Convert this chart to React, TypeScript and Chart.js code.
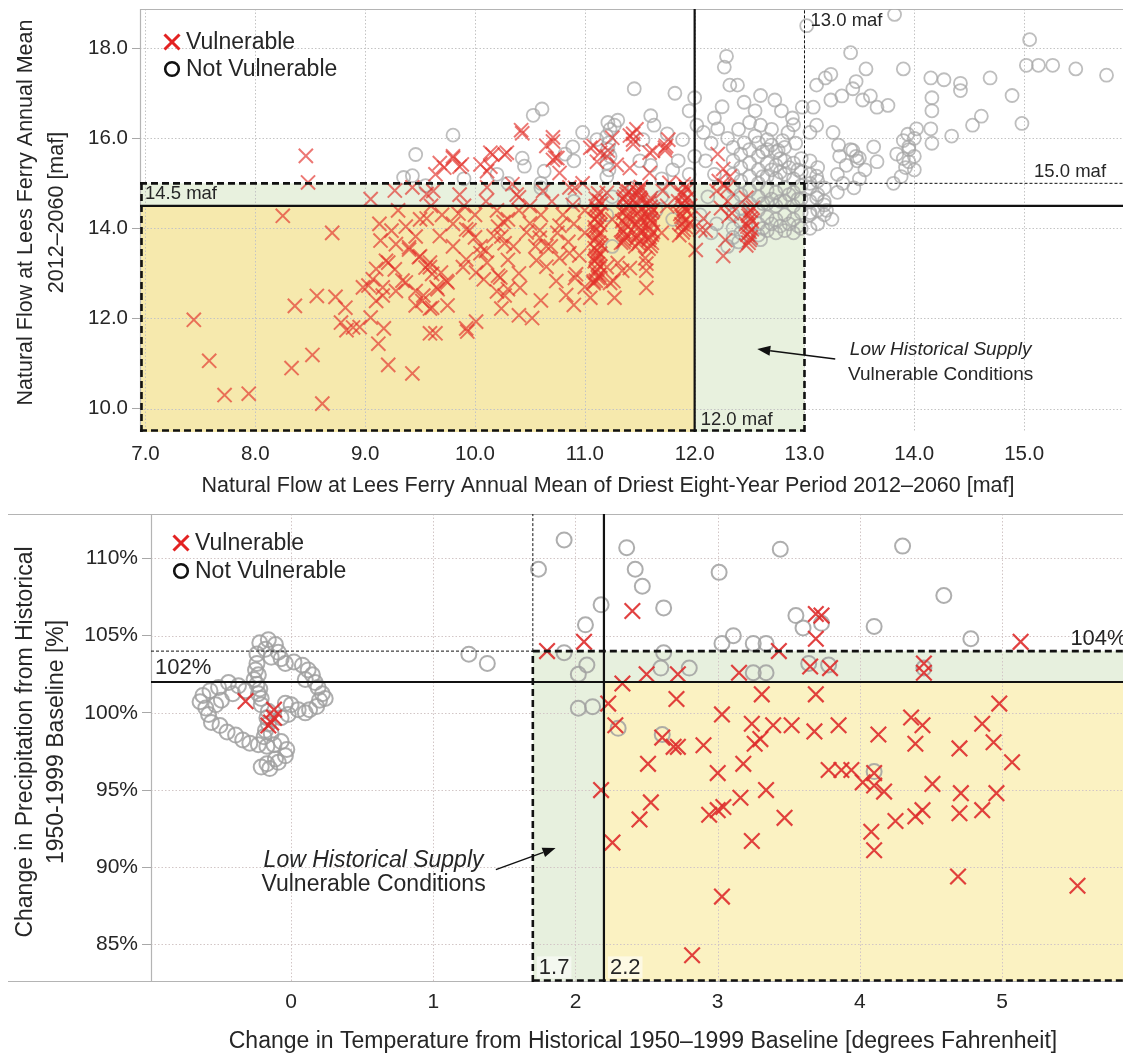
import React, { useEffect, useRef } from 'react';
import { Chart, registerables } from 'chart.js';

Chart.register(...registerables);

type P = [number, number];
const FONT = '"Liberation Sans", Arial, Helvetica, sans-serif';
const TEXT = '#262626';

// ---------------- TOP PANEL DATA ----------------
const topXTicks = [7, 8, 9, 10, 11, 12, 13, 14, 15];
const topYTicks = [10, 12, 14, 16, 18];
const topXRange = [6.95, 15.9];
const topYRange = [9.48, 18.87];
const topSupply = 12.0;
const topSupplyOuter = 13.0;
const topMean = 14.5;
const topMeanOuter = 15.0;

const topVulnerable: P[] = [
  [7.44, 11.97], [7.58, 11.06], [7.72, 10.3], [7.94, 10.33], [8.25, 14.28], [8.36, 12.28], [8.33, 10.9], [8.46, 15.61],
  [8.48, 15.02], [8.52, 11.19], [8.56, 12.5], [8.61, 10.11], [8.7, 13.9], [8.73, 12.48], [8.82, 12.24], [8.78, 11.91],
  [8.83, 11.74], [8.89, 11.8], [8.95, 11.81], [8.98, 12.69], [9.05, 12.02], [9.12, 11.44], [9.21, 10.97], [9.43, 10.78],
  [9.59, 11.67], [9.64, 11.67], [9.05, 14.65],
  [9.13, 14.1], [9.24, 13.95], [9.14, 13.73], [9.28, 13.65], [9.1, 13.1], [9.19, 13.28], [9.07, 12.87], [9.4, 13.58],
  [9.49, 13.36], [9.55, 13.13], [9.61, 12.99], [9.46, 12.61], [9.52, 12.39], [9.61, 12.24], [9.65, 12.69], [9.34, 12.84],
  [9.28, 12.61], [9.1, 12.39], [9.16, 12.69],
  [10.43, 16.11], [10.16, 15.64], [10.27, 15.64], [9.8, 15.56], [9.88, 15.42], [9.72, 15.35], [9.64, 15.2], [10.05, 15.42],
  [10.11, 15.27], [9.43, 14.91], [9.56, 14.76], [9.27, 14.84], [10.34, 14.98], [10.4, 14.69], [10.71, 15.93], [10.75, 15.56],
  [9.37, 14.04], [9.46, 13.82], [9.4, 13.53], [9.5, 13.38], [9.59, 13.24], [9.69, 13.02], [9.75, 12.8], [9.66, 12.65],
  [9.85, 14.33], [9.95, 13.96], [10.05, 13.6], [10.11, 13.24], [10.21, 12.95], [10.3, 12.65], [9.92, 13.31], [10.01, 13.02],
  [10.08, 12.87], [10.24, 13.82], [10.27, 13.67], [10.21, 14.04], [10.4, 14.4], [10.5, 14.11], [10.59, 13.96], [10.69, 13.6],
  [9.75, 12.29], [10.01, 11.93], [9.92, 11.78], [9.59, 12.22], [10.24, 12.22], [10.4, 12.07], [10.27, 12.51], [9.46, 12.29],
  [9.53, 12.51], [9.37, 12.8], [9.27, 13.09], [9.21, 13.24], [9.03, 12.73], [9.16, 12.51], [9.93, 11.71], [9.17, 11.78],
  [10.65, 15.83], [10.73, 15.57], [10.77, 15.23], [10.91, 14.9], [11.05, 15.79], [11.14, 15.68], [11.25, 16.01], [11.41, 16.06],
  [11.29, 15.41], [11.41, 15.34], [11.59, 15.68], [11.73, 15.79], [11.59, 15.23], [11.77, 15.01], [10.59, 13.79], [10.77, 13.34],
  [10.91, 12.9], [11.05, 12.46], [11.14, 12.9], [11.27, 12.46], [11.41, 13.12], [11.55, 13.34], [10.52, 12.01], [11.23, 12.79],
  [11.3, 13.23], [12.01, 13.52], [12.05, 13.97], [12.28, 13.74], [12.34, 14.34], [12.3, 14.9],
  [12.21, 15.65], [12.26, 15.32], [12.31, 14.27], [12.26, 13.39], [12.47, 14.68], [12.1, 13.95], [11.56, 13.06], [11.34, 13.06],
  [11.08, 12.82], [11.1, 13.39], [11.47, 16.2], [11.44, 15.97], [11.76, 15.97], [11.73, 15.73], [11.21, 15.73], [11.11, 15.48],
  [10.98, 15.0], [10.89, 14.52],
  [9.68, 15.45], [9.8, 15.6], [9.86, 15.37], [10.14, 15.68], [10.29, 15.68], [10.14, 15.37], [10.42, 16.18], [10.71, 16.02],
  [10.71, 15.52], [11.08, 15.83], [11.2, 15.6], [11.44, 16.1], [11.44, 15.87], [11.62, 15.72], [11.74, 15.83],
  [9.56, 14.22], [9.68, 13.83], [9.8, 13.6], [9.92, 13.98], [10.05, 13.45], [10.17, 13.83], [10.26, 14.14], [10.35, 13.6],
  [10.47, 13.91], [10.56, 13.29], [10.65, 13.6], [10.77, 14.06], [10.86, 13.45], [10.92, 12.98], [9.59, 13.14], [9.74, 12.83],
  [9.89, 13.14], [10.23, 12.91], [10.41, 12.68], [10.74, 12.83], [10.83, 12.52], [11.56, 13.22], [11.2, 13.14], [11.26, 12.83],
  [11.56, 12.68],
  [9.62, 14.83], [9.86, 14.75], [10.11, 14.91], [10.38, 14.75], [10.62, 14.83], [10.86, 14.91], [11.2, 14.79], [11.47, 14.83],
  [11.71, 14.83], [12.08, 14.22], [12.2, 14.83],
  [9.3, 14.4], [9.5, 14.2], [9.6, 14.5], [9.7, 14.3], [9.8, 14.1], [9.9, 14.5], [10.0, 14.3], [10.1, 14.6], [10.2, 14.4],
  [10.3, 14.2], [10.5, 14.5], [10.6, 14.3], [10.7, 14.6], [10.8, 14.3], [10.9, 14.1], [11.0, 14.4],
  [10.0, 13.8], [10.1, 13.5], [10.3, 13.3], [10.4, 13.0], [10.55, 13.6], [10.65, 13.15], [10.75, 13.9], [10.85, 13.7],
  [10.95, 13.4], [11.0, 13.9], [11.25, 14.2], [11.35, 13.7], [11.6, 14.2], [11.7, 13.9], [11.75, 14.5], [11.0, 12.7],
  [10.9, 12.3], [10.6, 12.4], [10.2, 12.6],
];

// tightly packed columns of vulnerable traces (read as solid red bars)
const topVulnerableStacks: P[] = [
  [11.08, 12.78], [11.12, 12.9], [11.1, 13.02], [11.14, 13.15], [11.09, 13.27], [11.13, 13.38], [11.11, 13.5], [11.15, 13.62],
  [11.08, 13.73], [11.12, 13.85], [11.1, 13.96], [11.14, 14.08], [11.09, 14.2], [11.13, 14.31], [11.11, 14.43], [11.15, 14.55],
  [11.1, 14.66], [11.12, 14.78],
  [11.1, 12.84], [11.13, 12.96], [11.11, 13.09], [11.12, 13.21], [11.1, 13.33], [11.14, 13.44], [11.09, 13.56], [11.13, 13.68],
  [11.11, 13.79], [11.14, 13.91], [11.09, 14.02], [11.12, 14.14], [11.11, 14.26], [11.14, 14.37], [11.1, 14.49], [11.13, 14.61],
  [11.33, 13.68], [11.37, 13.8], [11.35, 13.92], [11.39, 14.04], [11.34, 14.16], [11.38, 14.28], [11.36, 14.4], [11.4, 14.52],
  [11.35, 14.64], [11.38, 14.76], [11.36, 14.88], [11.36, 13.74], [11.38, 13.86], [11.34, 13.98], [11.37, 14.1], [11.39, 14.22],
  [11.35, 14.34], [11.37, 14.46], [11.38, 14.58], [11.36, 14.7], [11.4, 14.82],
  [11.46, 13.6], [11.5, 13.72], [11.48, 13.84], [11.51, 13.96], [11.47, 14.08], [11.5, 14.2], [11.48, 14.32], [11.52, 14.44],
  [11.47, 14.56], [11.5, 14.68], [11.49, 14.8], [11.51, 14.92], [11.49, 13.66], [11.47, 13.78], [11.51, 13.9], [11.49, 14.02],
  [11.48, 14.14], [11.51, 14.26], [11.49, 14.38], [11.48, 14.5], [11.51, 14.62], [11.48, 14.74], [11.5, 14.86],
  [11.58, 13.55], [11.61, 13.68], [11.59, 13.8], [11.62, 13.92], [11.58, 14.05], [11.6, 14.17], [11.59, 14.3], [11.62, 14.42],
  [11.58, 14.55], [11.6, 14.67], [11.6, 13.61], [11.58, 13.74], [11.61, 13.86], [11.59, 13.98], [11.62, 14.11], [11.58, 14.23],
  [11.61, 14.36], [11.6, 14.48], [11.59, 14.61],
  [11.86, 13.85], [11.9, 13.97], [11.88, 14.09], [11.93, 14.2], [11.87, 14.32], [11.91, 14.44], [11.89, 14.56], [11.94, 14.68],
  [11.88, 14.8], [11.92, 14.92], [11.95, 14.1], [11.96, 14.5], [11.85, 14.6], [11.89, 13.91], [11.92, 14.03], [11.9, 14.15],
  [11.88, 14.26], [11.93, 14.38], [11.9, 14.5], [11.91, 14.62], [11.89, 14.74], [11.93, 14.86], [11.9, 14.98],
  [12.47, 13.62], [12.5, 13.74], [12.48, 13.86], [12.52, 13.98], [12.47, 14.1], [12.51, 14.22], [12.49, 14.34], [12.53, 14.46],
  [12.49, 13.68], [12.51, 13.8], [12.5, 13.92], [12.48, 14.04], [12.52, 14.16], [12.49, 14.28], [12.51, 14.4],
  [12.22, 15.05], [12.27, 14.95], [12.3, 14.6], [12.24, 14.45], [12.32, 15.15],
];

const topNotVulnerable: P[] = [
  [9.46, 15.64], [9.8, 16.07], [10.53, 16.51], [10.61, 16.65], [10.43, 15.56], [10.45, 15.38], [10.63, 15.27], [9.35, 15.13],
  [9.43, 15.17], [9.55, 14.95], [9.9, 15.1], [10.2, 15.2], [10.3, 15.0], [10.6, 15.0], [10.9, 15.5], [10.98, 16.13],
  [10.89, 15.81], [10.82, 15.65], [11.11, 15.97], [11.27, 16.29], [11.53, 15.97], [11.63, 16.29], [11.45, 17.1], [11.82, 17.0],
  [11.89, 15.97], [11.95, 16.61], [12.02, 16.29],
  [11.2, 15.15], [11.22, 15.3], [11.2, 15.45], [11.23, 15.6], [11.21, 15.75], [11.22, 15.9], [11.2, 16.05], [11.23, 16.2],
  [11.21, 16.35], [11.8, 15.3], [11.85, 15.5], [11.95, 15.2], [12.0, 15.6], [11.7, 15.1], [11.6, 15.4], [11.75, 16.1],
  [11.5, 15.5], [11.2, 14.3], [11.25, 14.7], [11.45, 14.9], [11.65, 14.4], [11.7, 14.7], [11.8, 14.2], [11.25, 13.6],
  [10.9, 14.6], [10.6, 14.9],
  [12.29, 17.82], [12.27, 17.58], [12.32, 17.18], [12.39, 17.18], [13.02, 18.5], [13.42, 17.9], [13.56, 17.54], [13.9, 17.54],
  [13.82, 18.75], [14.15, 17.34], [14.27, 17.3], [14.42, 17.22], [14.42, 17.06], [14.69, 17.34], [15.05, 18.19], [15.02, 17.62],
  [15.13, 17.62], [15.26, 17.62], [15.47, 17.54], [15.75, 17.4], [14.89, 16.95], [14.98, 16.33], [14.16, 16.9], [14.16, 16.61],
  [14.61, 16.49], [14.53, 16.29], [14.34, 16.05], [14.16, 15.89], [13.94, 16.09], [13.95, 15.81], [13.95, 15.48], [13.84, 15.65],
  [13.81, 15.0], [13.44, 15.73], [13.5, 15.56], [13.47, 15.6], [13.26, 16.13], [13.31, 15.85], [13.66, 16.69], [13.76, 16.73],
  [13.53, 16.85], [13.6, 16.94], [13.24, 16.85], [13.34, 16.94], [13.44, 17.1], [13.47, 17.26], [13.11, 17.18], [13.19, 17.34],
  [13.24, 17.42], [13.08, 16.69], [13.63, 15.81], [13.66, 15.48], [14.02, 16.21], [14.15, 16.21], [12.73, 16.85], [12.79, 16.61],
  [12.89, 16.45], [12.98, 16.69], [12.85, 16.13], [12.92, 15.89], [13.05, 16.13], [13.11, 16.29], [12.55, 16.61], [12.6, 16.29],
  [12.66, 15.97], [12.76, 15.73], [12.18, 16.45], [12.21, 16.21], [12.08, 16.13], [12.15, 15.89], [13.11, 14.68], [13.18, 14.52],
  [13.05, 14.35], [13.05, 15.0], [13.11, 15.16], [13.2, 14.4], [13.25, 14.2],
];

// the dense grey block right of 12.0 maf
const topNotVulnerableDense: P[] = [
  [12.35, 14.0], [12.35, 14.3], [12.35, 14.6], [12.35, 14.9], [12.35, 15.2], [12.35, 15.5], [12.35, 15.8],
  [12.42, 13.9], [12.42, 14.15], [12.42, 14.45], [12.42, 14.75], [12.42, 15.05], [12.42, 15.35], [12.42, 15.65],
  [12.5, 14.55], [12.5, 14.85], [12.5, 15.15], [12.5, 15.45], [12.5, 15.75],
  [12.58, 13.85], [12.58, 14.1], [12.58, 14.4], [12.58, 14.7], [12.58, 15.0], [12.58, 15.3], [12.58, 15.6], [12.58, 15.9],
  [12.62, 14.0], [12.62, 14.55], [12.62, 15.15], [12.62, 15.7],
  [12.66, 13.95], [12.66, 14.25], [12.66, 14.55], [12.66, 14.85], [12.66, 15.15], [12.66, 15.45], [12.66, 15.75],
  [12.7, 14.1], [12.7, 14.65], [12.7, 15.3], [12.7, 15.85],
  [12.74, 13.9], [12.74, 14.2], [12.74, 14.5], [12.74, 14.8], [12.74, 15.1], [12.74, 15.4], [12.74, 15.7],
  [12.78, 14.05], [12.78, 14.6], [12.78, 15.25], [12.78, 15.55],
  [12.82, 13.95], [12.82, 14.3], [12.82, 14.6], [12.82, 14.9], [12.82, 15.2], [12.82, 15.5], [12.82, 15.8],
  [12.86, 14.1], [12.86, 14.75], [12.86, 15.35],
  [12.9, 13.9], [12.9, 14.2], [12.9, 14.5], [12.9, 14.8], [12.9, 15.1], [12.9, 15.45],
  [12.94, 14.05], [12.94, 14.65], [12.94, 15.3],
  [12.97, 14.0], [12.97, 14.35], [12.97, 14.65], [12.97, 14.95], [12.97, 15.25], [12.97, 15.55],
  [13.05, 14.0], [13.05, 14.3], [13.05, 14.6], [13.05, 14.9], [13.05, 15.2], [13.05, 15.5],
  [13.12, 14.1], [13.12, 14.4], [13.12, 14.75], [13.12, 15.05], [13.12, 15.35],
  [13.18, 14.3], [13.18, 14.6], [13.18, 14.9],
  [12.3, 16.0], [12.4, 16.2], [12.5, 16.35], [12.55, 16.05], [12.7, 16.2], [12.8, 15.95], [12.9, 16.3], [12.45, 15.9],
  [13.3, 14.8], [13.35, 15.0], [13.3, 15.2], [13.38, 15.4], [13.32, 15.6], [13.45, 14.9], [13.5, 15.1], [13.55, 15.3],
  [13.48, 15.5], [13.42, 15.75],
  [13.88, 15.15], [13.92, 15.35], [13.9, 15.55], [13.95, 15.75], [13.9, 15.95], [14.0, 15.3], [14.0, 15.6], [14.0, 16.0],
  [12.05, 14.3], [12.12, 14.7], [12.18, 15.2], [12.1, 15.5], [12.2, 14.1], [12.15, 13.9], [12.3, 13.6], [12.35, 13.8],
  [12.4, 13.7], [12.6, 13.75], [12.25, 16.7], [12.45, 16.8], [12.6, 16.95], [12.0, 16.9], [11.3, 16.4], [11.6, 16.5],
];

// ---------------- BOTTOM PANEL DATA ----------------
const bottomXTicks = [0, 1, 2, 3, 4, 5];
const bottomYTicks = [85, 90, 95, 100, 105, 110];
const bottomXRange = [-0.985, 5.85];
const bottomYRange = [82.57, 112.88];
const bottomTemp = 2.2;
const bottomTempOuter = 1.7;
const bottomPrecip = 102;
const bottomPrecipOuter = 104;

const bottomVulnerable: P[] = [
  [-0.32, 100.76], [-0.12, 100.21], [-0.12, 99.69], [-0.14, 99.38], [-0.16, 99.18],
  [1.8, 104.0], [2.4, 106.6], [2.06, 104.6], [3.43, 104.0], [5.13, 104.6], [3.69, 106.4], [3.73, 106.3], [3.69, 104.8],
  [3.65, 103.0], [3.79, 102.9], [4.45, 103.2], [4.45, 102.6], [3.15, 102.6], [2.5, 102.5], [2.72, 102.5], [2.33, 101.9],
  [3.31, 101.2], [3.69, 101.2], [2.71, 100.9], [2.23, 100.6], [4.98, 100.6], [3.03, 99.9], [2.28, 99.2], [3.24, 99.3],
  [3.39, 99.2], [3.52, 99.2], [3.68, 98.8], [3.85, 99.2], [4.36, 99.7], [4.44, 99.2], [4.86, 99.3], [2.61, 98.4],
  [2.69, 97.8], [2.72, 97.8], [2.9, 97.9], [3.26, 98.0], [3.3, 98.3], [4.13, 98.6], [4.39, 98.0], [4.94, 98.1],
  [4.7, 97.7], [5.07, 96.8], [2.51, 96.7], [3.0, 96.1], [3.18, 96.7], [3.78, 96.3], [3.87, 96.3], [3.94, 96.3],
  [4.02, 95.5], [4.1, 96.1], [4.1, 95.3], [4.17, 94.9], [4.51, 95.4], [4.71, 94.8], [4.96, 94.8], [2.18, 95.0],
  [2.53, 94.2], [3.34, 95.0], [3.16, 94.5], [3.0, 93.7], [3.04, 93.9], [2.94, 93.4], [3.47, 93.2], [2.45, 93.1],
  [4.25, 93.0], [4.39, 93.3], [4.44, 93.7], [4.7, 93.5], [4.86, 93.7], [4.08, 92.3], [4.1, 91.1], [2.26, 91.6],
  [3.24, 91.7], [4.69, 89.4], [5.53, 88.8], [3.03, 88.1], [2.82, 84.3],
];

const bottomNotVulnerable: P[] = [
  [1.74, 109.3], [1.25, 103.8], [1.38, 103.2],
  [1.92, 111.2], [2.36, 110.7], [2.42, 109.3], [2.47, 108.2], [2.18, 107.0], [2.62, 106.8], [2.07, 105.7], [3.01, 109.1],
  [3.44, 110.6], [4.3, 110.8], [4.59, 107.6], [3.55, 106.3], [3.6, 105.5], [3.73, 105.8], [4.1, 105.6], [4.78, 104.8],
  [3.11, 105.0], [3.03, 104.5], [3.25, 104.5], [3.34, 104.5], [1.92, 103.9], [2.62, 103.9], [2.08, 103.1], [2.6, 102.9],
  [2.8, 102.9], [2.02, 102.5], [3.25, 102.6], [3.34, 102.6], [3.64, 103.2], [3.78, 103.1], [2.02, 100.3], [2.12, 100.4],
  [2.61, 98.6], [4.1, 96.2], [4.45, 102.9], [2.3, 99.0],
  [-0.16, 104.74], [-0.22, 104.54], [-0.11, 104.43], [-0.18, 104.12], [-0.09, 103.92], [-0.24, 103.81], [-0.14, 103.61],
  [-0.07, 103.51], [-0.24, 103.2], [-0.25, 102.78], [-0.23, 102.47], [-0.26, 102.16], [-0.24, 101.86], [-0.22, 101.55],
  [-0.23, 101.24], [-0.21, 100.93], [-0.04, 103.2], [0.02, 103.3], [0.08, 103.09], [0.12, 102.78], [0.15, 102.47],
  [0.1, 102.16], [0.17, 101.96], [0.19, 101.65], [0.22, 101.24], [0.2, 100.82], [0.24, 100.93], [0.18, 100.41],
  [0.13, 100.21], [0.1, 100.0], [0.05, 100.21], [0.0, 100.52], [-0.04, 100.62], [-0.02, 99.9], [-0.07, 99.69],
  [-0.44, 101.96], [-0.51, 101.65], [-0.57, 101.44], [-0.62, 101.13], [-0.64, 100.72], [-0.6, 100.31], [-0.58, 99.9],
  [-0.56, 99.38], [-0.5, 99.18], [-0.45, 98.76], [-0.39, 98.56], [-0.34, 98.25], [-0.29, 98.04], [-0.23, 97.94],
  [-0.17, 97.84], [-0.12, 97.94], [-0.07, 98.14], [-0.03, 97.63], [-0.04, 97.22], [-0.11, 97.01], [-0.17, 96.7],
  [-0.21, 96.49], [-0.15, 96.39], [-0.09, 96.8], [-0.17, 99.69], [-0.16, 99.28], [-0.18, 98.87], [-0.19, 98.45],
  [-0.14, 98.66], [-0.16, 100.1], [-0.21, 100.52], [-0.37, 101.75], [-0.32, 101.44], [-0.41, 101.24], [-0.49, 100.82],
  [-0.53, 100.52],
];

const legendLabels = ['Vulnerable', 'Not Vulnerable'];
const noteLines = ['Low Historical Supply', 'Vulnerable Conditions'];

// ---------------- drawing helpers ----------------
const pts = (a: P[]) => a.map(([x, y]) => ({ x, y }));

function clampPx(s: any, v: number) {
  return s.getPixelForValue(Math.max(s.min, Math.min(s.max, v)));
}

function seg(ctx: CanvasRenderingContext2D, x0: number, y0: number, x1: number, y1: number) {
  ctx.beginPath();
  ctx.moveTo(x0, y0);
  ctx.lineTo(x1, y1);
  ctx.stroke();
}

function arrow(ctx: CanvasRenderingContext2D, x0: number, y0: number, x1: number, y1: number) {
  ctx.setLineDash([]);
  ctx.strokeStyle = '#111';
  ctx.fillStyle = '#111';
  ctx.lineWidth = 1.5;
  const ang = Math.atan2(y1 - y0, x1 - x0);
  const L = 13, W = 5;
  const bx = x1 - L * Math.cos(ang), by = y1 - L * Math.sin(ang);
  seg(ctx, x0, y0, bx, by);
  ctx.beginPath();
  ctx.moveTo(x1, y1);
  ctx.lineTo(bx + W * Math.sin(ang), by - W * Math.cos(ang));
  ctx.lineTo(bx - W * Math.sin(ang), by + W * Math.cos(ang));
  ctx.closePath();
  ctx.fill();
}

function overlay(spec: any) {
  return {
    id: 'overlay',
    beforeDatasetsDraw(chart: any) {
      const { ctx, chartArea: a, scales } = chart;
      const x = scales.x, y = scales.y;
      ctx.save();
      for (const f of spec.fills) {
        const x0 = clampPx(x, f.x0), x1 = clampPx(x, f.x1);
        const y0 = clampPx(y, f.y0), y1 = clampPx(y, f.y1);
        ctx.fillStyle = f.color;
        ctx.fillRect(Math.min(x0, x1), Math.min(y0, y1), Math.abs(x1 - x0), Math.abs(y1 - y0));
      }
      ctx.strokeStyle = spec.gridColor;
      ctx.lineWidth = 1;
      ctx.setLineDash([1.5, 2]);
      for (const t of x.ticks) {
        const p = Math.round(x.getPixelForValue(t.value)) + 0.5;
        seg(ctx, p, a.top, p, a.bottom);
      }
      for (const t of y.ticks) {
        const p = Math.round(y.getPixelForValue(t.value)) + 0.5;
        seg(ctx, a.left, p, a.right, p);
      }
      ctx.setLineDash([]);
      ctx.strokeStyle = '#b4b4b4';
      ctx.lineWidth = 1.2;
      spec.frame(ctx, a);
      ctx.restore();
    },
    afterDatasetsDraw(chart: any) {
      const { ctx, chartArea: a, scales } = chart;
      const x = scales.x, y = scales.y;
      const fs = spec.fonts;
      ctx.save();
      for (const l of spec.lines) {
        ctx.strokeStyle = '#111';
        ctx.lineWidth = l.w;
        ctx.setLineDash(l.dash || []);
        seg(ctx, clampPx(x, l.x0) + (l.ox || 0), clampPx(y, l.y0) + (l.oy || 0), clampPx(x, l.x1) + (l.ox || 0), clampPx(y, l.y1) + (l.oy || 0));
      }
      ctx.setLineDash([]);
      ctx.font = `${fs.label}px ${FONT}`;
      ctx.textBaseline = 'alphabetic';
      ctx.textAlign = 'left';
      for (const lb of spec.labels) {
        const px = clampPx(x, lb.x) + (lb.dx || 0);
        const py = clampPx(y, lb.y) + (lb.dy || 0);
        if (lb.bg) {
          const w = ctx.measureText(lb.text).width;
          ctx.fillStyle = lb.bg;
          ctx.fillRect(px - 2, py - fs.label * 0.8, w + 4, fs.label);
        }
        ctx.fillStyle = TEXT;
        ctx.fillText(lb.text, px, py);
      }
      // legend
      const lx = a.left + spec.legend.dx, ly = a.top + spec.legend.dy, gap = spec.legend.gap;
      ctx.strokeStyle = '#e32222';
      ctx.lineWidth = 3;
      const s = 7.5;
      seg(ctx, lx - s, ly - s, lx + s, ly + s);
      seg(ctx, lx + s, ly - s, lx - s, ly + s);
      ctx.strokeStyle = '#111';
      ctx.lineWidth = 2.6;
      ctx.beginPath();
      ctx.arc(lx, ly + gap, 6.8, 0, Math.PI * 2);
      ctx.stroke();
      ctx.fillStyle = TEXT;
      ctx.font = `${fs.legend}px ${FONT}`;
      ctx.textBaseline = 'middle';
      ctx.fillText(chart.data.datasets[0].label, lx + 14, ly + 1);
      ctx.fillText(chart.data.datasets[2].label, lx + 14, ly + gap + 1);
      // note
      const n = spec.note;
      const cx = x.getPixelForValue(n.x);
      ctx.textAlign = 'center';
      ctx.font = `italic ${fs.note}px ${FONT}`;
      ctx.fillText(noteLines[0], cx, y.getPixelForValue(n.y1));
      ctx.font = `${fs.note}px ${FONT}`;
      ctx.fillText(noteLines[1], cx, y.getPixelForValue(n.y2));
      arrow(ctx, x.getPixelForValue(n.ax0), y.getPixelForValue(n.ay0), x.getPixelForValue(n.ax1), y.getPixelForValue(n.ay1));
      // axis titles
      ctx.fillStyle = TEXT;
      ctx.font = `${fs.title}px ${FONT}`;
      ctx.textAlign = 'center';
      ctx.textBaseline = 'middle';
      ctx.fillText(spec.xTitle.text, spec.xTitle.x, spec.xTitle.y);
      const cy = (a.top + a.bottom) / 2 + (spec.yTitle.dy || 0);
      spec.yTitle.lines.forEach((t: string, i: number) => {
        ctx.save();
        ctx.translate(spec.yTitle.xs[i], cy);
        ctx.rotate(-Math.PI / 2);
        ctx.fillText(t, 0, 0);
        ctx.restore();
      });
      ctx.restore();
    },
  };
}

function scatterConfig(opts: any) {
  const tickFont = { family: FONT, size: opts.tickSize };
  return {
    type: 'scatter',
    data: { datasets: opts.datasets },
    options: {
      responsive: false,
      animation: false,
      events: [],
      layout: { autoPadding: false, padding: { top: opts.padTop, right: 0, left: 0, bottom: 0 } },
      plugins: { legend: { display: false }, tooltip: { enabled: false } },
      scales: {
        x: {
          type: 'linear',
          min: opts.xRange[0],
          max: opts.xRange[1],
          afterBuildTicks: (s: any) => { s.ticks = opts.xTicks.map((value: number) => ({ value })); },
          afterFit: (s: any) => { s.height = opts.xHeight; s.paddingLeft = 0; s.paddingRight = 0; },
          grid: { display: false, drawTicks: false, tickLength: 0 },
          border: { display: false },
          ticks: { padding: opts.xPad, color: TEXT, font: tickFont, maxRotation: 0, autoSkip: false, callback: opts.xFmt },
        },
        y: {
          type: 'linear',
          min: opts.yRange[0],
          max: opts.yRange[1],
          afterBuildTicks: (s: any) => { s.ticks = opts.yTicks.map((value: number) => ({ value })); },
          afterFit: (s: any) => { s.width = opts.yWidth; s.paddingTop = 0; s.paddingBottom = 0; },
          grid: { drawOnChartArea: false, drawTicks: true, tickLength: opts.tickLen, color: '#a8a8a8', lineWidth: 1 },
          border: { display: false },
          ticks: { padding: 4, color: TEXT, font: tickFont, autoSkip: false, callback: opts.yFmt },
        },
      },
    },
    plugins: [overlay(opts.overlay)],
  };
}

export default function App() {
  const topRef = useRef<HTMLCanvasElement>(null);
  const botRef = useRef<HTMLCanvasElement>(null);

  useEffect(() => {
    document.body.style.margin = '0';
    const redTop = { pointStyle: 'crossRot', pointRadius: 10, borderWidth: 2, borderColor: 'rgba(226,48,42,0.66)', backgroundColor: 'rgba(0,0,0,0)' };
    const greyTop = { pointStyle: 'circle', pointRadius: 6.5, borderWidth: 1.8, borderColor: 'rgba(165,165,165,0.72)', backgroundColor: 'rgba(0,0,0,0)' };
    const top = new Chart(topRef.current as HTMLCanvasElement, scatterConfig({
      datasets: [
        { label: legendLabels[0], data: pts(topVulnerable), ...redTop },
        { label: legendLabels[0], data: pts(topVulnerableStacks), ...redTop },
        { label: legendLabels[1], data: pts(topNotVulnerable), ...greyTop },
        { label: legendLabels[1], data: pts(topNotVulnerableDense), ...greyTop },
      ],
      padTop: 9, xRange: topXRange, yRange: topYRange, xTicks: topXTicks, yTicks: topYTicks,
      xHeight: 68, yWidth: 140, xPad: 10, tickLen: 8, tickSize: 20.5,
      xFmt: (v: any) => Number(v).toFixed(1), yFmt: (v: any) => Number(v).toFixed(1),
      overlay: {
        fonts: { label: 18.5, legend: 23, note: 19, title: 21.5 },
        gridColor: '#c4c4c4',
        fills: [
          { x0: -Infinity, x1: topSupplyOuter, y0: -Infinity, y1: topMeanOuter, color: '#e8f1de' },
          { x0: -Infinity, x1: topSupply, y0: -Infinity, y1: topMean, color: '#f6e9ad' },
        ],
        frame: (ctx: CanvasRenderingContext2D, a: any) => {
          seg(ctx, a.left, a.top + 0.5, a.right, a.top + 0.5);
          seg(ctx, a.left + 0.5, a.top, a.left + 0.5, a.bottom);
        },
        lines: [
          { x0: topSupply, y0: -Infinity, x1: topSupply, y1: Infinity, w: 2.2 },
          { x0: -Infinity, y0: topMean, x1: Infinity, y1: topMean, w: 2.2 },
          { x0: topSupplyOuter, y0: topMeanOuter, x1: topSupplyOuter, y1: Infinity, w: 1, dash: [3, 2] },
          { x0: topSupplyOuter, y0: topMeanOuter, x1: Infinity, y1: topMeanOuter, w: 1, dash: [3, 2] },
          { x0: -Infinity, y0: topMeanOuter, x1: topSupplyOuter, y1: topMeanOuter, w: 2.6, dash: [7, 4] },
          { x0: topSupplyOuter, y0: -Infinity, x1: topSupplyOuter, y1: topMeanOuter, w: 2.6, dash: [7, 4] },
          { x0: -Infinity, y0: -Infinity, x1: topSupplyOuter, y1: -Infinity, w: 2.6, dash: [7, 4], oy: -1.5 },
          { x0: -Infinity, y0: -Infinity, x1: -Infinity, y1: topMeanOuter, w: 2.6, dash: [7, 4], ox: 1.5 },
        ],
        labels: [
          { text: '14.5 maf', x: -Infinity, y: topMean, dx: 5, dy: -7 },
          { text: '12.0 maf', x: topSupply, y: -Infinity, dx: 6, dy: -7 },
          { text: '13.0 maf', x: topSupplyOuter, y: Infinity, dx: 6, dy: 17 },
          { text: '15.0 maf', x: 15.09, y: topMeanOuter, dx: 0, dy: -6 },
        ],
        legend: { dx: 32, dy: 33, gap: 27 },
        note: { x: 14.24, y1: 11.3, y2: 10.75, ax0: 13.28, ay0: 11.1, ax1: 12.57, ay1: 11.32 },
        xTitle: { text: 'Natural Flow at Lees Ferry Annual Mean of Driest Eight-Year Period 2012\u20132060 [maf]', x: 608, y: 486 },
        yTitle: { lines: ['Natural Flow at Lees Ferry Annual Mean', '2012\u20132060 [maf]'], xs: [26, 57], dy: -8 },
      },
    }) as any);

    const redBot = { pointStyle: 'crossRot', pointRadius: 11, borderWidth: 2.2, borderColor: 'rgba(222,44,44,0.9)', backgroundColor: 'rgba(0,0,0,0)' };
    const greyBot = { pointStyle: 'circle', pointRadius: 7.5, borderWidth: 2, borderColor: 'rgba(160,160,160,0.85)', backgroundColor: 'rgba(0,0,0,0)' };
    const bot = new Chart(botRef.current as HTMLCanvasElement, scatterConfig({
      datasets: [
        { label: legendLabels[0], data: pts(bottomVulnerable), ...redBot },
        { label: legendLabels[0], data: [], ...redBot },
        { label: legendLabels[1], data: pts(bottomNotVulnerable), ...greyBot },
      ],
      padTop: 14, xRange: bottomXRange, yRange: bottomYRange, xTicks: bottomXTicks, yTicks: bottomYTicks,
      xHeight: 73, yWidth: 151, xPad: 8, tickLen: 9, tickSize: 21,
      xFmt: (v: any) => String(v), yFmt: (v: any) => `${v}%`,
      overlay: {
        fonts: { label: 22, legend: 23, note: 23, title: 23 },
        gridColor: '#d2c6c6',
        fills: [
          { x0: bottomTempOuter, x1: Infinity, y0: -Infinity, y1: bottomPrecipOuter, color: '#e7f0de' },
          { x0: bottomTemp, x1: Infinity, y0: -Infinity, y1: bottomPrecip, color: '#fbf2c2' },
        ],
        frame: (ctx: CanvasRenderingContext2D, a: any) => {
          seg(ctx, 8, a.top + 0.5, a.right, a.top + 0.5);
          seg(ctx, 8, a.bottom - 0.5, a.right, a.bottom - 0.5);
          seg(ctx, a.left + 0.5, a.top, a.left + 0.5, a.bottom);
        },
        lines: [
          { x0: bottomTemp, y0: -Infinity, x1: bottomTemp, y1: Infinity, w: 2.2 },
          { x0: -Infinity, y0: bottomPrecip, x1: Infinity, y1: bottomPrecip, w: 2.2 },
          { x0: -Infinity, y0: bottomPrecipOuter, x1: bottomTempOuter, y1: bottomPrecipOuter, w: 1, dash: [3, 2] },
          { x0: bottomTempOuter, y0: bottomPrecipOuter, x1: bottomTempOuter, y1: Infinity, w: 1, dash: [3, 2] },
          { x0: bottomTempOuter, y0: bottomPrecipOuter, x1: Infinity, y1: bottomPrecipOuter, w: 2.6, dash: [7, 4] },
          { x0: bottomTempOuter, y0: -Infinity, x1: bottomTempOuter, y1: bottomPrecipOuter, w: 2.6, dash: [7, 4] },
          { x0: bottomTempOuter, y0: -Infinity, x1: Infinity, y1: -Infinity, w: 2.6, dash: [7, 4], oy: -1.5 },
        ],
        labels: [
          { text: '102%', x: -Infinity, y: bottomPrecip, dx: 4, dy: -8 },
          { text: '104%', x: 5.48, y: bottomPrecipOuter, dx: 0, dy: -6 },
          { text: '1.7', x: bottomTempOuter, y: -Infinity, dx: 6, dy: -8, bg: 'rgba(255,255,255,0.55)' },
          { text: '2.2', x: bottomTemp, y: -Infinity, dx: 6, dy: -8, bg: 'rgba(255,255,255,0.55)' },
        ],
        legend: { dx: 30, dy: 29, gap: 28 },
        note: { x: 0.58, y1: 90.45, y2: 88.85, ax0: 1.44, ay0: 89.85, ax1: 1.86, ay1: 91.25 },
        xTitle: { text: 'Change in Temperature from Historical 1950\u20131999 Baseline [degrees Fahrenheit]', x: 643, y: 542 },
        yTitle: { lines: ['Change in Precipitation from Historical', '1950-1999 Baseline [%]'], xs: [26, 57], dy: -6 },
      },
    }) as any);

    return () => {
      top.destroy();
      bot.destroy();
    };
  }, []);

  return (
    <div style={{ width: 1123, background: '#fff' }}>
      <canvas ref={topRef} width={1123} height={500} style={{ display: 'block' }} />
      <canvas ref={botRef} width={1123} height={555} style={{ display: 'block' }} />
    </div>
  );
}
